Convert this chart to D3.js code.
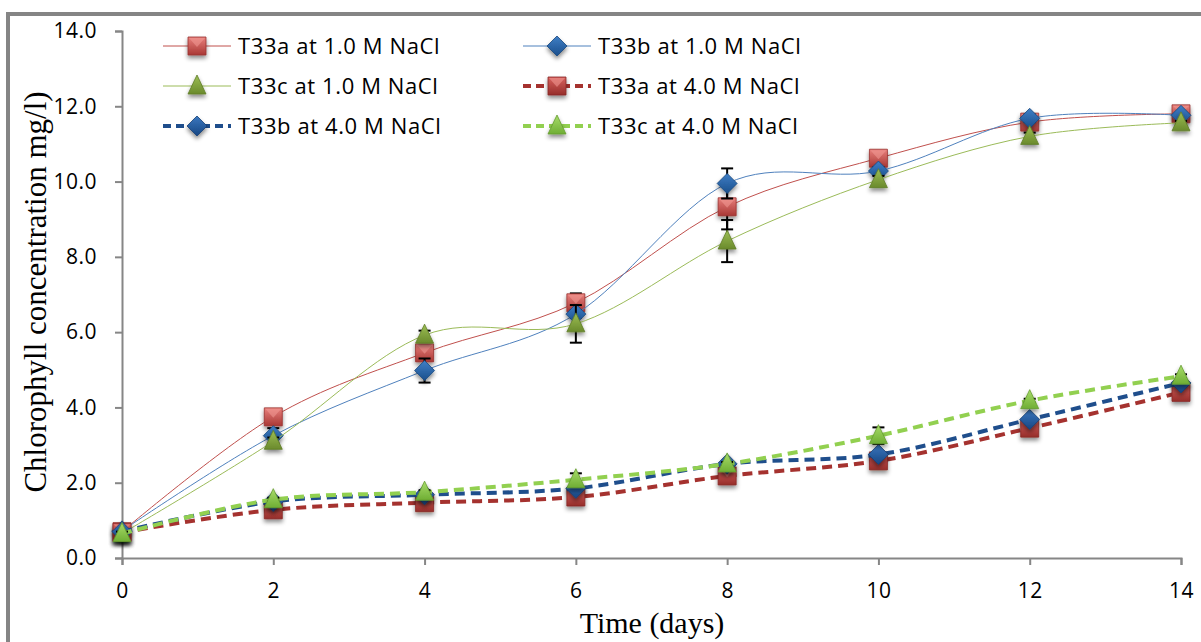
<!DOCTYPE html>
<html>
<head>
<meta charset="utf-8">
<script src="https://cdn.jsdelivr.net/npm/d3@7"></script>
<style>
  body { margin: 0; background: #fff; }
  svg { display: block; }
</style>
</head>
<body>
<svg id="chart" width="1201" height="642"></svg>
<script>
//--------------------------DATA------------------------------------------------
var days = [0, 2, 4, 6, 8, 10, 12, 14];
var xTicks = [0, 2, 4, 6, 8, 10, 12, 14];
var yTicks = [0, 2, 4, 6, 8, 10, 12, 14];

var t33a1 = [0.70, 3.75, 5.45, 6.78, 9.33, 10.62, 11.58, 11.80];
var t33b1 = [0.72, 3.25, 4.98, 6.48, 9.95, 10.28, 11.68, 11.76];
var t33c1 = [0.65, 3.10, 5.92, 6.22, 8.42, 10.05, 11.20, 11.56];
var t33a4 = [0.68, 1.28, 1.47, 1.62, 2.18, 2.58, 3.45, 4.40];
var t33b4 = [0.70, 1.50, 1.68, 1.85, 2.50, 2.75, 3.68, 4.65];
var t33c4 = [0.65, 1.55, 1.75, 2.08, 2.50, 3.25, 4.18, 4.83];

// standard deviations (mostly hidden behind the markers)
var err_a1 = [0.05, 0.10, 0.10, 0.25, 0.60, 0.10, 0.10, 0.05];
var err_b1 = [0.05, 0.20, 0.32, 0.10, 0.40, 0.10, 0.10, 0.05];
var err_c1 = [0.05, 0.10, 0.12, 0.50, 0.56, 0.10, 0.10, 0.05];
var err_a4 = [0.05, 0.05, 0.05, 0.05, 0.05, 0.05, 0.05, 0.05];
var err_b4 = [0.05, 0.05, 0.05, 0.05, 0.05, 0.05, 0.05, 0.05];
var err_c4 = [0.05, 0.05, 0.05, 0.17, 0.05, 0.22, 0.05, 0.05];

var labels = [
    "T33a at 1.0 M NaCl", "T33b at 1.0 M NaCl", "T33c at 1.0 M NaCl",
    "T33a at 4.0 M NaCl", "T33b at 4.0 M NaCl", "T33c at 4.0 M NaCl"
];

var series = [
    { name: labels[0], values: t33a1, err: err_a1, shape: "square",   line: "#c0504d", grad: ["#e8807c", "#a93835"], width: 1, dash: null },
    { name: labels[1], values: t33b1, err: err_b1, shape: "diamond",  line: "#4f81bd", grad: ["#3f7fc6", "#1b4f8c"], width: 1, dash: null },
    { name: labels[2], values: t33c1, err: err_c1, shape: "triangle", line: "#9bbb59", grad: ["#9dbf55", "#6a8a2c"], width: 1, dash: null },
    { name: labels[3], values: t33a4, err: err_a4, shape: "square",   line: "#a5322f", grad: ["#d8625e", "#962d2a"], width: 4, dash: "10,6" },
    { name: labels[4], values: t33b4, err: err_b4, shape: "diamond",  line: "#1f4e8c", grad: ["#3b78c0", "#174682"], width: 4, dash: "10,6" },
    { name: labels[5], values: t33c4, err: err_c4, shape: "triangle", line: "#92d050", grad: ["#a8dc6a", "#6fae34"], width: 4, dash: "10,6" }
];

//--------------------------SETUP-----------------------------------------------
var svg = d3.select("#chart");
var defs = svg.append("defs");

var shadow = defs.append("filter").attr("id", "shadow")
    .attr("x", "-50%").attr("y", "-50%").attr("width", "200%").attr("height", "220%");
shadow.append("feDropShadow")
    .attr("dx", 0).attr("dy", 3).attr("stdDeviation", 2)
    .attr("flood-color", "#000").attr("flood-opacity", 0.45);

series.forEach(function(s, i) {
    var g = defs.append("linearGradient").attr("id", "grad" + i)
        .attr("x1", 0).attr("y1", 0).attr("x2", 0).attr("y2", 1);
    g.append("stop").attr("offset", "0%").attr("stop-color", s.grad[0]);
    g.append("stop").attr("offset", "100%").attr("stop-color", s.grad[1]);
});

// outer frame (cropped at the right and bottom)
svg.append("rect")
    .attr("x", 8).attr("y", 14)
    .attr("width", 1400).attr("height", 800)
    .attr("fill", "none")
    .attr("stroke", "#858585")
    .attr("stroke-width", 4);

var x = d3.scaleLinear().domain([0, 14]).range([122, 1181]);
var y = d3.scaleLinear().domain([0, 14]).range([558, 31]);

//--------------------------AXES------------------------------------------------
var yAxis = svg.append("g")
    .attr("transform", "translate(" + x(0) + ",0)")
    .call(d3.axisLeft(y).tickValues(yTicks).tickSize(7).tickPadding(18)
        .tickFormat(d3.format(".1f")));
var xAxis = svg.append("g")
    .attr("transform", "translate(0," + y(0) + ")")
    .call(d3.axisBottom(x).tickValues(xTicks).tickSize(7).tickPadding(18)
        .tickFormat(d3.format("d")));

[yAxis, xAxis].forEach(function(a) {
    a.select(".domain").attr("stroke", "#868686").attr("stroke-width", 2);
    a.selectAll(".tick line").attr("stroke", "#868686").attr("stroke-width", 2);
    a.selectAll(".tick text")
        .attr("fill", "#000")
        .style("font-family", "'Open Sans', sans-serif")
        .style("font-size", "21px")
        .style("letter-spacing", "0.5px");
});

svg.append("text")
    .attr("transform", "translate(46," + 292 + ") rotate(-90)")
    .attr("text-anchor", "middle")
    .style("font-family", "'Liberation Serif', 'Times New Roman', serif")
    .style("font-size", "31px")
    .text("Chlorophyll concentration mg/l)");

svg.append("text")
    .attr("x", 652).attr("y", 633)
    .attr("text-anchor", "middle")
    .style("font-family", "'Liberation Serif', 'Times New Roman', serif")
    .style("font-size", "30px")
    .text("Time (days)");

//--------------------------MARKERS---------------------------------------------
function markerPath(shape) {
    if (shape === "square") return "M-9,-9H9V9H-9Z";
    if (shape === "diamond") return "M0,-10L10,0L0,10L-10,0Z";
    return "M0,-11L9,8H-9Z";
}

function drawMarker(sel, s, i) {
    var m = sel.append("g").attr("filter", "url(#shadow)");
    m.append("path")
        .attr("d", markerPath(s.shape))
        .attr("fill", "url(#grad" + i + ")")
        .attr("stroke", d3.color(s.grad[1]).darker(0.3))
        .attr("stroke-width", 0.8);
    if (s.shape === "square") {
        // bevel highlight of the Excel square marker
        m.append("path")
            .attr("d", "M-8,-8H8L0,1Z")
            .attr("fill", "#f29a96")
            .attr("opacity", 0.55);
    }
    return m;
}

//--------------------------LINES-----------------------------------------------
var line = d3.line()
    .x(function(d) { return x(d[0]); })
    .y(function(d) { return y(d[1]); })
    .curve(d3.curveCardinal.tension(0));

var plot = svg.append("g");

series.forEach(function(s, i) {
    var pts = days.map(function(d, k) { return [d, s.values[k]]; });
    var g = plot.append("g");

    g.append("path")
        .attr("d", line(pts))
        .attr("fill", "none")
        .attr("stroke", s.line)
        .attr("stroke-width", s.width)
        .attr("stroke-dasharray", s.dash);

    // error bars
    pts.forEach(function(p, k) {
        var e = s.err[k];
        var eb = g.append("g").attr("stroke", "#000").attr("stroke-width", 2);
        eb.append("line")
            .attr("x1", x(p[0])).attr("x2", x(p[0]))
            .attr("y1", y(p[1] - e)).attr("y2", y(p[1] + e));
        [p[1] - e, p[1] + e].forEach(function(v) {
            eb.append("line")
                .attr("x1", x(p[0]) - 6).attr("x2", x(p[0]) + 6)
                .attr("y1", y(v)).attr("y2", y(v));
        });
    });

    pts.forEach(function(p) {
        drawMarker(g, s, i).attr("transform", "translate(" + x(p[0]) + "," + y(p[1]) + ")");
    });
});

//--------------------------LEGEND----------------------------------------------
var legendCols = [163, 523];
var legendRows = [46, 86, 126];
var legendOrder = [0, 1, 2, 3, 4, 5];

var legend = svg.append("g");
legendOrder.forEach(function(si, k) {
    var s = series[si];
    var lx = legendCols[k % 2];
    var ly = legendRows[Math.floor(k / 2)];
    var item = legend.append("g").attr("transform", "translate(" + lx + "," + ly + ")");
    item.append("line")
        .attr("x1", 0).attr("x2", 68)
        .attr("y1", 0).attr("y2", 0)
        .attr("stroke", s.line)
        .attr("stroke-width", s.width)
        .attr("stroke-dasharray", s.dash ? "8,5" : null);
    drawMarker(item, s, si).attr("transform", "translate(34,0)");
    item.append("text")
        .attr("x", 75).attr("y", 0)
        .attr("dy", "0.35em")
        .style("font-family", "'Open Sans', sans-serif")
        .style("font-size", "22px")
        .style("letter-spacing", "0.6px")
        .text(s.name);
});
</script>
</body>
</html>
